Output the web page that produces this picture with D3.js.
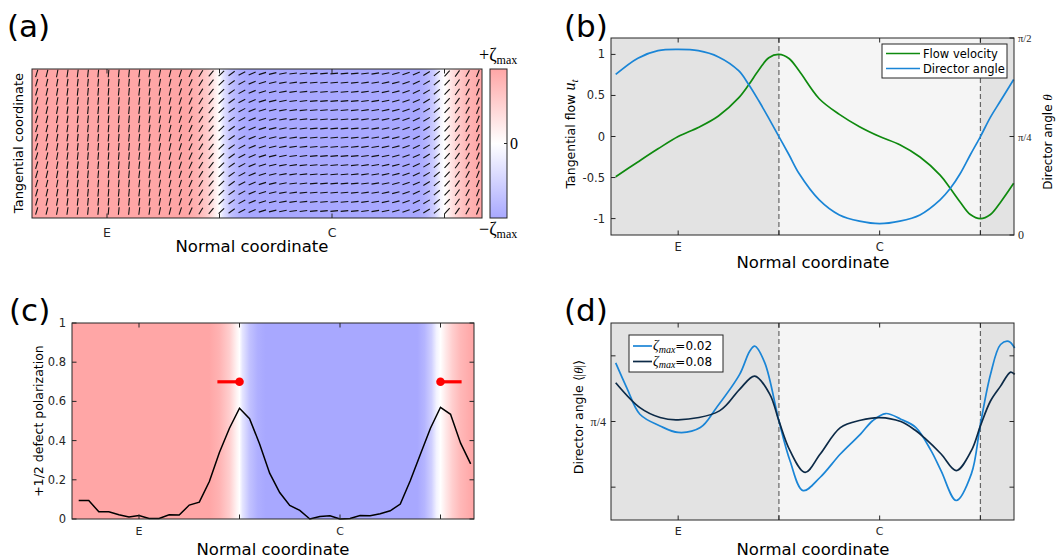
<!DOCTYPE html>
<html><head><meta charset="utf-8">
<script src="https://cdn.jsdelivr.net/npm/d3@7"></script>
<style>body{margin:0;background:#fff;} svg{display:block;font-family:"DejaVu Sans",sans-serif;}</style>
</head><body><svg id="fig" width="1056" height="558"></svg>
<script>
// ---------------- data ----------------
const xTickVals = [0, 1, 2, 3];
const xTickLabels = ["E", "", "C", ""];
const boundaryX = [1, 3];

// activity profile (normalised zeta) along the normal coordinate
const zetaX = [-0.67, 0.7, 0.8, 0.9, 0.97, 1.0, 1.03, 1.1, 1.18, 1.26, 2.77, 2.84, 2.91, 2.96, 3.0, 3.05, 3.12, 3.2, 3.3, 3.34];
const zetaV = [1, 1, 0.85, 0.55, 0.15, 0, -0.3, -0.7, -0.92, -1, -1, -0.85, -0.55, -0.15, 0, 0.25, 0.55, 0.8, 0.97, 1];

// panel (b)
const flowX = [-0.62,-0.4,-0.2,0,0.2,0.4,0.6,0.7,0.8,0.9,1.0,1.1,1.2,1.4,1.6,1.8,2.0,2.2,2.4,2.6,2.7,2.8,2.9,3.0,3.1,3.2,3.33];
const flowU = [-0.49,-0.31,-0.15,0,0.11,0.25,0.47,0.63,0.81,0.96,1.0,0.95,0.80,0.46,0.27,0.12,0.0,-0.10,-0.25,-0.47,-0.63,-0.80,-0.95,-1.0,-0.95,-0.80,-0.57];
const dirTheta = [1.28,1.41,1.47,1.48,1.47,1.42,1.31,1.20,1.07,0.93,0.785,0.64,0.49,0.28,0.16,0.11,0.09,0.11,0.16,0.28,0.37,0.49,0.64,0.785,0.94,1.07,1.24];
const bLeftTicks = [-1, -0.5, 0, 0.5, 1];
const bLeftTickLabels = ["-1", "-0.5", "0", "0.5", "1"];
const bRightTicks = [0, Math.PI/4, Math.PI/2];
const bRightTickLabels = ["0", "π/4", "π/2"];
const bLegend = ["Flow velocity", "Director angle"];

// panel (c)
const polX = [-0.6,-0.5,-0.4,-0.3,-0.2,-0.1,0,0.1,0.2,0.3,0.4,0.5,0.6,0.7,0.8,0.9,1.0,1.1,1.2,1.3,1.4,1.5,1.6,1.7,1.8,1.9,2.0,2.1,2.2,2.3,2.4,2.5,2.6,2.7,2.8,2.9,3.0,3.1,3.2,3.3];
const polV = [0.095,0.095,0.037,0.037,0.022,0.010,0.018,0.003,0.003,0.022,0.020,0.071,0.086,0.191,0.339,0.463,0.565,0.512,0.383,0.234,0.135,0.069,0.044,0.0,0.013,0.017,0.0,0.003,0.018,0.017,0.027,0.042,0.076,0.196,0.330,0.463,0.570,0.534,0.387,0.281];
const defectX = [1.0, 3.0];
const defectY = [0.70, 0.70];
const defectTail = [-0.22, 0.21];
const cTicks = [0, 0.2, 0.4, 0.6, 0.8, 1];
const cTickLabels = ["0", "0.2", "0.4", "0.6", "0.8", "1"];

// panel (d)
const avg02X = [-0.62,-0.51,-0.38,-0.18,0,0.22,0.38,0.61,0.71,0.76,0.86,1.0,1.11,1.24,1.41,1.61,1.81,1.93,2.06,2.21,2.36,2.51,2.61,2.76,2.91,3.0,3.1,3.2,3.28,3.34];
const avg02 = [1.136,0.987,0.829,0.759,0.720,0.749,0.868,1.067,1.206,1.236,1.136,0.789,0.551,0.372,0.452,0.591,0.710,0.79,0.833,0.799,0.749,0.611,0.49,0.313,0.472,0.769,1.067,1.246,1.265,1.225];
const avg08X = [-0.62,-0.38,-0.18,0,0.41,0.61,0.76,0.91,1.0,1.11,1.26,1.41,1.61,1.81,2.0,2.21,2.36,2.44,2.61,2.76,2.91,3.0,3.1,3.2,3.3,3.34];
const avg08 = [1.017,0.868,0.809,0.795,0.849,0.978,1.057,0.948,0.789,0.611,0.481,0.591,0.749,0.793,0.809,0.785,0.73,0.69,0.591,0.492,0.611,0.759,0.908,0.997,1.081,1.067];
const dTicks = [Math.PI/8, Math.PI/4, 3*Math.PI/8];
const dTickLabels = ["", "π/4", ""];

// ---------------- layout ----------------
const svg = d3.select("#fig");
const defs = svg.append("defs");
const INK = "#262626";
const xDomain = [-2/3, 10/3];
const PA = {l:32, r:482, t:69, b:218};
const PB = {l:611, r:1014, t:38, b:235};
const PC = {l:72, r:474, t:323, b:519};
const PD = {l:611, r:1014, t:323, b:520};
const xs = P => d3.scaleLinear().domain(xDomain).range([P.l, P.r]);
const zcolor = d3.scaleLinear().domain([-1, 0, 1]).range(["#a8a8ff", "#ffffff", "#ffa6a6"]);
const TL = 4.5;
const smooth = d3.curveCatmullRom.alpha(0.5);

function hGradient(id, P) {
  const x = xs(P);
  const lg = defs.append("linearGradient").attr("id", id).attr("gradientUnits", "userSpaceOnUse")
    .attr("x1", P.l).attr("x2", P.r).attr("y1", 0).attr("y2", 0);
  zetaX.forEach((v, i) => lg.append("stop")
    .attr("offset", Math.max(0, Math.min(1, (x(v) - P.l) / (P.r - P.l))))
    .attr("stop-color", zcolor(zetaV[i])));
}

function frame(P) {
  svg.append("rect").attr("x", P.l).attr("y", P.t).attr("width", P.r - P.l).attr("height", P.b - P.t)
    .attr("fill", "none").attr("stroke", INK).attr("stroke-width", 1);
}
function xTicks(P, fs, labelY) {
  const x = xs(P);
  xTickVals.forEach((v, i) => {
    svg.append("line").attr("x1", x(v)).attr("x2", x(v)).attr("y1", P.b).attr("y2", P.b - TL).attr("stroke", INK);
    svg.append("line").attr("x1", x(v)).attr("x2", x(v)).attr("y1", P.t).attr("y2", P.t + TL).attr("stroke", INK);
    if (xTickLabels[i]) svg.append("text").attr("x", x(v)).attr("y", labelY).attr("text-anchor", "middle")
      .attr("font-size", fs).attr("fill", INK).text(xTickLabels[i]);
  });
}
function panelLabel(t, x, y) {
  svg.append("text").attr("x", x).attr("y", y).attr("font-size", 31).attr("fill", "#000").text(t);
}
function xTitle(P, cx, y) {
  svg.append("text").attr("x", cx).attr("y", y).attr("text-anchor", "middle").attr("font-size", 16.5)
    .attr("fill", "#000").text("Normal coordinate");
}
function shade(P) {
  const x = xs(P);
  svg.append("rect").attr("x", P.l).attr("y", P.t).attr("width", P.r - P.l).attr("height", P.b - P.t).attr("fill", "#e3e3e3");
  svg.append("rect").attr("x", x(boundaryX[0])).attr("y", P.t).attr("width", x(boundaryX[1]) - x(boundaryX[0]))
    .attr("height", P.b - P.t).attr("fill", "#f5f5f5");
  boundaryX.forEach(v => svg.append("line").attr("x1", x(v)).attr("x2", x(v)).attr("y1", P.t).attr("y2", P.b)
    .attr("stroke", "#666").attr("stroke-width", 1.2).attr("stroke-dasharray", "5,3"));
}

// ---------------- panel (a) ----------------
hGradient("gA", PA);
svg.append("rect").attr("x", PA.l).attr("y", PA.t).attr("width", PA.r - PA.l).attr("height", PA.b - PA.t).attr("fill", "url(#gA)");
{
  const x = xs(PA);
  const thetaAt = d3.scaleLinear().domain(flowX).range(dirTheta).clamp(true);
  const cols = d3.range(-0.625, 3.32, 0.0912);
  const rows = d3.range(0, 16);
  const yRow = d3.scaleLinear().domain([0, 15]).range([PA.t + 4.5, PA.b - 7]);
  const L = 3.8;
  const g = svg.append("g").attr("stroke", "#111").attr("stroke-width", 1.1);
  cols.forEach(c => {
    const th = thetaAt(c);
    rows.forEach(r => {
      const cx = x(c), cy = yRow(r);
      g.append("line").attr("x1", cx - L * Math.cos(th)).attr("y1", cy + L * Math.sin(th))
        .attr("x2", cx + L * Math.cos(th)).attr("y2", cy - L * Math.sin(th));
    });
  });
}
frame(PA);
xTicks(PA, 12.5, 237);
panelLabel("(a)", 7, 37);
xTitle(PA, 252, 252);
svg.append("text").attr("transform", "translate(23,143) rotate(-90)").attr("text-anchor", "middle")
  .attr("font-size", 13).attr("fill", "#000").text("Tangential coordinate");
// colorbar
{
  const cb = {l:490, r:507, t:69, b:218};
  const lg = defs.append("linearGradient").attr("id", "gCB").attr("x1", 0).attr("x2", 0).attr("y1", 0).attr("y2", 1);
  [1, 0, -1].forEach((v, i) => lg.append("stop").attr("offset", i / 2).attr("stop-color", zcolor(v)));
  svg.append("rect").attr("x", cb.l).attr("y", cb.t).attr("width", cb.r - cb.l).attr("height", cb.b - cb.t)
    .attr("fill", "url(#gCB)").attr("stroke", INK);
  const cy = d3.scaleLinear().domain([-1, 1]).range([cb.b, cb.t]);
  svg.append("line").attr("x1", cb.r).attr("x2", cb.r - 3).attr("y1", cy(0)).attr("y2", cy(0)).attr("stroke", INK);
  svg.append("text").attr("x", 510).attr("y", cy(0) + 5).attr("font-family", "Liberation Serif").attr("font-size", 16).text("0");
  const zl = (y, sign) => {
    const t = svg.append("text").attr("x", 479).attr("y", y).attr("font-family", "Liberation Serif").attr("fill", "#000");
    t.append("tspan").attr("font-size", 18).text(sign + "ζ");
    t.append("tspan").attr("font-size", 12).attr("dy", 3).text("max");
  };
  zl(cb.t - 8, "+");
  zl(cb.b + 17, "−");
}

// ---------------- panel (b) ----------------
shade(PB);
{
  const x = xs(PB);
  const yL = d3.scaleLinear().domain([-1.2, 1.2]).range([PB.b, PB.t]);
  const yR = d3.scaleLinear().domain([0, Math.PI / 2]).range([PB.b, PB.t]);
  const lineF = d3.line().x((d, i) => x(flowX[i])).y(d => yL(d)).curve(smooth);
  const lineD = d3.line().x((d, i) => x(flowX[i])).y(d => yR(d)).curve(smooth);
  svg.append("path").attr("d", lineF(flowU)).attr("fill", "none").attr("stroke", "#0f8a0f").attr("stroke-width", 1.7);
  svg.append("path").attr("d", lineD(dirTheta)).attr("fill", "none").attr("stroke", "#1a85d6").attr("stroke-width", 1.7);
  frame(PB);
  xTicks(PB, 11.5, 251);
  bLeftTicks.forEach((v, i) => {
    svg.append("line").attr("x1", PB.l).attr("x2", PB.l + TL).attr("y1", yL(v)).attr("y2", yL(v)).attr("stroke", INK);
    svg.append("text").attr("x", PB.l - 6).attr("y", yL(v) + 4).attr("text-anchor", "end").attr("font-size", 11.5)
      .attr("fill", INK).text(bLeftTickLabels[i]);
  });
  bRightTicks.forEach((v, i) => {
    svg.append("line").attr("x1", PB.r).attr("x2", PB.r - TL).attr("y1", yR(v)).attr("y2", yR(v)).attr("stroke", INK);
    svg.append("text").attr("x", PB.r + 4).attr("y", yR(v) + 4).attr("font-family", "Liberation Serif")
      .attr("font-size", i === 0 ? 12 : 10.5).attr("fill", INK).text(bRightTickLabels[i]);
  });
  // legend
  const lx = 882, ly = 44;
  svg.append("rect").attr("x", lx).attr("y", ly).attr("width", 125).attr("height", 34).attr("fill", "#fff").attr("stroke", INK);
  [["#0f8a0f", bLegend[0]], ["#1a85d6", bLegend[1]]].forEach((e, i) => {
    const yy = ly + 9.5 + i * 15;
    svg.append("line").attr("x1", lx + 4).attr("x2", lx + 38).attr("y1", yy).attr("y2", yy).attr("stroke", e[0]).attr("stroke-width", 1.7);
    svg.append("text").attr("x", lx + 41).attr("y", yy + 4).attr("font-size", 11.5).attr("fill", "#000").text(e[1]);
  });
  // axis titles
  const tl = svg.append("text").attr("transform", "translate(575,134) rotate(-90)").attr("text-anchor", "middle")
    .attr("font-size", 12.5).attr("fill", "#000");
  tl.append("tspan").text("Tangential flow ");
  tl.append("tspan").attr("font-family", "Liberation Serif").attr("font-style", "italic").attr("font-size", 16).text("u");
  tl.append("tspan").attr("font-family", "Liberation Serif").attr("font-style", "italic").attr("font-size", 11).attr("dy", 3).text("t");
  const tr = svg.append("text").attr("transform", "translate(1052,142) rotate(-90)").attr("text-anchor", "middle")
    .attr("font-size", 12).attr("fill", "#000");
  tr.append("tspan").text("Director angle ");
  tr.append("tspan").attr("font-family", "Liberation Serif").attr("font-style", "italic").attr("font-size", 13).text("θ");
}
panelLabel("(b)", 564, 37);
xTitle(PB, 813, 268);

// ---------------- panel (c) ----------------
hGradient("gC", PC);
svg.append("rect").attr("x", PC.l).attr("y", PC.t).attr("width", PC.r - PC.l).attr("height", PC.b - PC.t).attr("fill", "url(#gC)");
{
  const x = xs(PC);
  const y = d3.scaleLinear().domain([0, 1]).range([PC.b, PC.t]);
  const ln = d3.line().x((d, i) => x(polX[i])).y(d => y(d));
  svg.append("path").attr("d", ln(polV)).attr("fill", "none").attr("stroke", "#000").attr("stroke-width", 1.5);
  defectX.forEach((dx, i) => {
    svg.append("line").attr("x1", x(dx + defectTail[i])).attr("x2", x(dx)).attr("y1", y(defectY[i])).attr("y2", y(defectY[i]))
      .attr("stroke", "#ff0000").attr("stroke-width", 3.2);
    svg.append("circle").attr("cx", x(dx)).attr("cy", y(defectY[i])).attr("r", 4.3).attr("fill", "#ff0000");
  });
  frame(PC);
  xTicks(PC, 11, 535);
  cTicks.forEach((v, i) => {
    svg.append("line").attr("x1", PC.l).attr("x2", PC.l + TL).attr("y1", y(v)).attr("y2", y(v)).attr("stroke", INK);
    svg.append("line").attr("x1", PC.r).attr("x2", PC.r - TL).attr("y1", y(v)).attr("y2", y(v)).attr("stroke", INK);
    svg.append("text").attr("x", PC.l - 6).attr("y", y(v) + 4).attr("text-anchor", "end").attr("font-size", 11.5)
      .attr("fill", INK).text(cTickLabels[i]);
  });
  svg.append("text").attr("transform", "translate(43,421) rotate(-90)").attr("text-anchor", "middle")
    .attr("font-size", 12.5).attr("fill", "#000").text("+1/2 defect polarization");
}
panelLabel("(c)", 9, 321);
xTitle(PC, 273, 555);

// ---------------- panel (d) ----------------
shade(PD);
{
  const x = xs(PD);
  const y = d3.scaleLinear().domain([Math.PI / 16, 7 * Math.PI / 16]).range([PD.b, PD.t]);
  const l02 = d3.line().x((d, i) => x(avg02X[i])).y(d => y(d)).curve(smooth);
  const l08 = d3.line().x((d, i) => x(avg08X[i])).y(d => y(d)).curve(smooth);
  svg.append("path").attr("d", l02(avg02)).attr("fill", "none").attr("stroke", "#1a85d6").attr("stroke-width", 1.7);
  svg.append("path").attr("d", l08(avg08)).attr("fill", "none").attr("stroke", "#0c2a47").attr("stroke-width", 1.7);
  frame(PD);
  xTicks(PD, 11, 535);
  dTicks.forEach((v, i) => {
    svg.append("line").attr("x1", PD.l).attr("x2", PD.l + TL).attr("y1", y(v)).attr("y2", y(v)).attr("stroke", INK);
    svg.append("line").attr("x1", PD.r).attr("x2", PD.r - TL).attr("y1", y(v)).attr("y2", y(v)).attr("stroke", INK);
    if (dTickLabels[i]) svg.append("text").attr("x", PD.l - 5).attr("y", y(v) + 4).attr("text-anchor", "end")
      .attr("font-family", "Liberation Serif").attr("font-size", 12).attr("fill", INK).text(dTickLabels[i]);
  });
  // legend
  const lx = 629, ly = 335;
  svg.append("rect").attr("x", lx).attr("y", ly).attr("width", 94).attr("height", 37).attr("fill", "#fff").attr("stroke", INK);
  [["#1a85d6", "=0.02"], ["#0c2a47", "=0.08"]].forEach((e, i) => {
    const yy = ly + 11 + i * 15.5;
    svg.append("line").attr("x1", lx + 4).attr("x2", lx + 23).attr("y1", yy).attr("y2", yy).attr("stroke", e[0]).attr("stroke-width", 1.7);
    const t = svg.append("text").attr("x", lx + 24).attr("y", yy + 4).attr("fill", "#000");
    t.append("tspan").attr("font-family", "Liberation Serif").attr("font-style", "italic").attr("font-size", 14).text("ζ");
    t.append("tspan").attr("font-family", "Liberation Serif").attr("font-style", "italic").attr("font-size", 10).attr("dy", 2.5).text("max");
    t.append("tspan").attr("font-size", 12).attr("dy", -2.5).text(e[1]);
  });
  const ty = svg.append("text").attr("transform", "translate(583,417) rotate(-90)").attr("text-anchor", "middle")
    .attr("font-size", 12.5).attr("fill", "#000");
  ty.append("tspan").text("Director angle ");
  ty.append("tspan").attr("font-family", "Liberation Serif").attr("font-size", 13).text("⟨|");
  ty.append("tspan").attr("font-family", "Liberation Serif").attr("font-style", "italic").attr("font-size", 13).text("θ");
  ty.append("tspan").attr("font-family", "Liberation Serif").attr("font-size", 13).text("|⟩");
}
panelLabel("(d)", 564, 321);
xTitle(PD, 813, 555);
</script></body></html>
